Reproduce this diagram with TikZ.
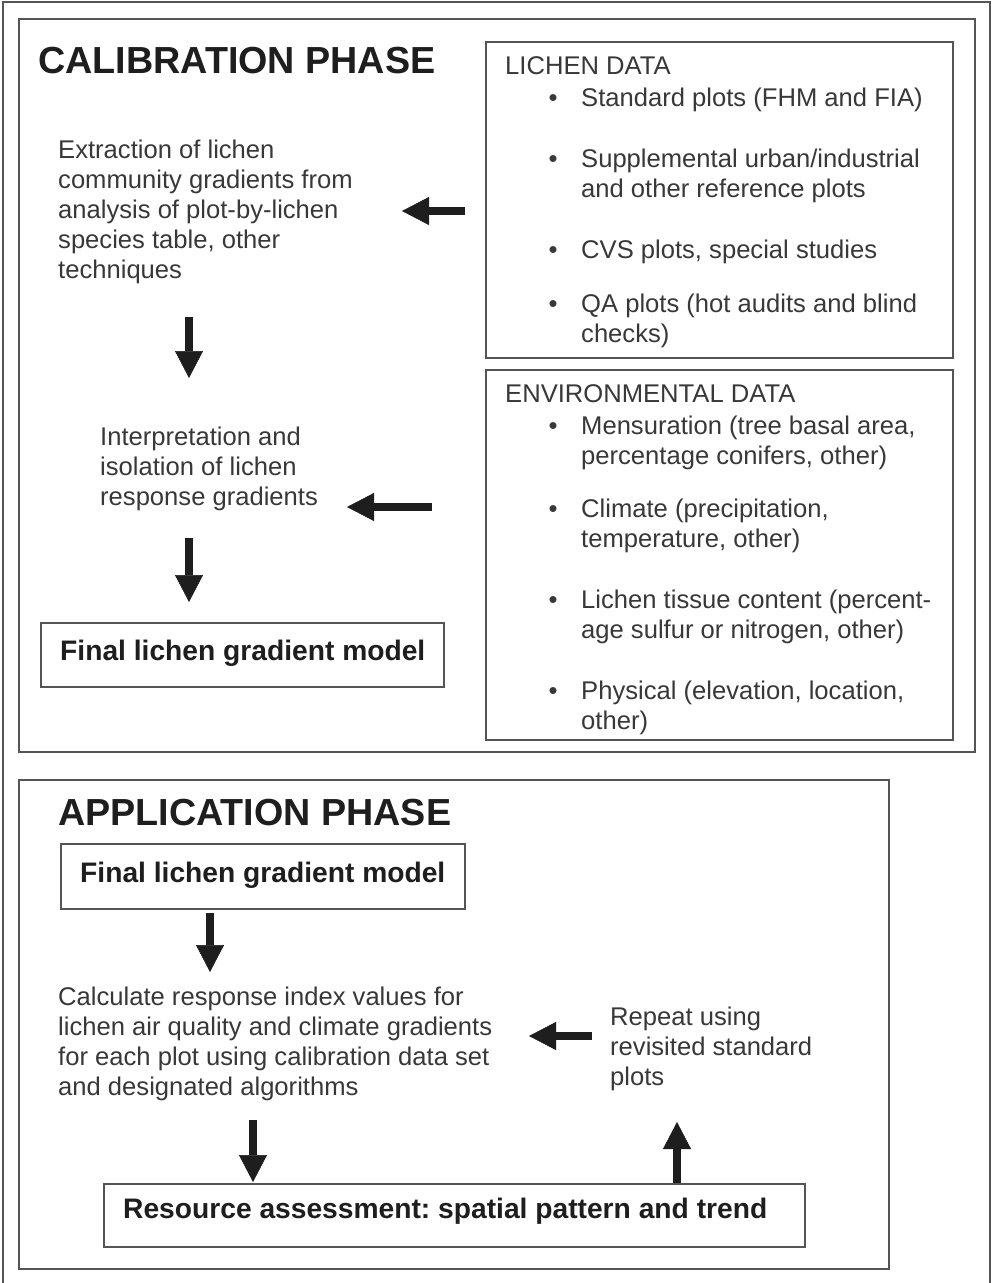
\documentclass[tikz,border=0pt]{standalone}
\usepackage{fontspec}
\setmainfont{Liberation Sans}
\usetikzlibrary{arrows.meta}
\frenchspacing
\definecolor{boxgray}{HTML}{555555}
\definecolor{txtgray}{HTML}{383838}
\definecolor{ink}{HTML}{1E1E1E}
\newcommand\mlines[1]{\vtop{\baselineskip=30pt\lineskiplimit=-100pt\lineskip=0pt\ialign{##\hfil\cr#1\crcr}}}
\tikzset{
  bodytext/.style={font=\fontsize{25.6}{30}\selectfont, text=txtgray, inner sep=0pt, anchor=base west},
  boldtext/.style={font=\fontsize{28.2}{32}\selectfont\bfseries, text=ink, inner sep=0pt, anchor=base west},
  headtext/.style={font=\fontsize{37.7}{40}\selectfont\bfseries, text=ink, inner sep=0pt, anchor=base west},
  bulletmark/.style={font=\fontsize{25.6}{30}\selectfont, text=txtgray, inner sep=0pt, anchor=base},
  framebox/.style={draw=boxgray, line width=2pt, inner sep=0pt, fill=none},
  bigarrow/.style={draw=ink, line width=8pt, -{Triangle[length=27pt,width=28pt,line width=0.5pt]}}
}
\begin{document}
\begin{tikzpicture}[x=1pt,y=-1pt]
\useasboundingbox (0,0) rectangle (992,1283);
\fill[white] (0,0) rectangle (992,1283);
% outer frame
\draw[draw=boxgray, line width=1.5pt] (3,1283) -- (3,2) -- (990,2) -- (990,1283);

% ---------- containers ----------
\node[framebox, minimum width=956pt, minimum height=733pt] (calib) at (497,385.5) {};
\node[framebox, minimum width=467pt, minimum height=316pt] (lichenbox) at (719.5,200) {};
\node[framebox, minimum width=467pt, minimum height=370pt] (envbox) at (719.5,555) {};
\node[framebox, minimum width=403pt, minimum height=64pt] (finalA) at (242.5,655) {};
\node[framebox, minimum width=870pt, minimum height=489pt] (app) at (454,1024.5) {};
\node[framebox, minimum width=404pt, minimum height=65pt] (finalB) at (263,876.5) {};
\node[framebox, minimum width=701pt, minimum height=63pt] (resbox) at (454.5,1215.5) {};

% ---------- headers ----------
\node[headtext] (calhead) at (38,73) {CALIBRATION PHASE};
\node[headtext] (apphead) at (58,825) {APPLICATION PHASE};

% ---------- lichen data ----------
\node[bodytext] (lichenhead) at (505,74) {LICHEN DATA};
\node[bulletmark] (lb1) at (553,106) {•};
\node[bodytext] (li1) at (581,106) {Standard plots (FHM and FIA)};
\node[bulletmark] (lb2) at (553,167) {•};
\node[bodytext] (li2) at (581,167) {\mlines{Supplemental urban/industrial\cr and other reference plots}};
\node[bulletmark] (lb3) at (553,258) {•};
\node[bodytext] (li3) at (581,258) {CVS plots, special studies};
\node[bulletmark] (lb4) at (553,312) {•};
\node[bodytext] (li4) at (581,312) {\mlines{QA plots (hot audits and blind\cr checks)}};

% ---------- environmental data ----------
\node[bodytext] (envhead) at (505,402) {ENVIRONMENTAL DATA};
\node[bulletmark] (eb1) at (553,434) {•};
\node[bodytext] (ei1) at (581,434) {\mlines{Mensuration (tree basal area,\cr percentage conifers, other)}};
\node[bulletmark] (eb2) at (553,517) {•};
\node[bodytext] (ei2) at (581,517) {\mlines{Climate (precipitation,\cr temperature, other)}};
\node[bulletmark] (eb3) at (553,608) {•};
\node[bodytext] (ei3) at (581,608) {\mlines{Lichen tissue content (percent-\cr age sulfur or nitrogen, other)}};
\node[bulletmark] (eb4) at (553,699) {•};
\node[bodytext] (ei4) at (581,699) {\mlines{Physical (elevation, location,\cr other)}};

% ---------- calibration flow ----------
\node[bodytext] (extract) at (58,158) {\mlines{Extraction of lichen\cr community gradients from\cr analysis of plot-by-lichen\cr species table, other\cr techniques}};
\node[bodytext] (interp) at (100,445) {\mlines{Interpretation and\cr isolation of lichen\cr response gradients}};
\node[boldtext] (finalAtext) at (60,660) {Final lichen gradient model};

% ---------- application flow ----------
\node[boldtext] (finalBtext) at (80,882) {Final lichen gradient model};
\node[bodytext] (calc) at (58,1005) {\mlines{Calculate response index values for\cr lichen air quality and climate gradients\cr for each plot using calibration data set\cr and designated algorithms}};
\node[bodytext] (repeat) at (610,1025) {\mlines{Repeat using\cr revisited standard\cr plots}};
\node[boldtext] (restext) at (123,1218) {Resource assessment: spatial pattern and trend};

% ---------- arrows ----------
\coordinate (a1s) at (465,211);  \coordinate (a1e) at (402,211);
\coordinate (a2s) at (189,317);  \coordinate (a2e) at (189,378);
\coordinate (a3s) at (432,507);  \coordinate (a3e) at (347,507);
\coordinate (a4s) at (189,538);  \coordinate (a4e) at (189,602);
\coordinate (a5s) at (210,913);  \coordinate (a5e) at (210,972);
\coordinate (a6s) at (592,1036); \coordinate (a6e) at (529,1036);
\coordinate (a7s) at (253,1120); \coordinate (a7e) at (253,1182);
\coordinate (a8s) at (677,1183); \coordinate (a8e) at (677,1122);
\draw[bigarrow] (a1s) -- (a1e);
\draw[bigarrow] (a2s) -- (a2e);
\draw[bigarrow] (a3s) -- (a3e);
\draw[bigarrow] (a4s) -- (a4e);
\draw[bigarrow] (a5s) -- (a5e);
\draw[bigarrow] (a6s) -- (a6e);
\draw[bigarrow] (a7s) -- (a7e);
\draw[bigarrow] (a8s) -- (a8e);
\end{tikzpicture}
\end{document}
